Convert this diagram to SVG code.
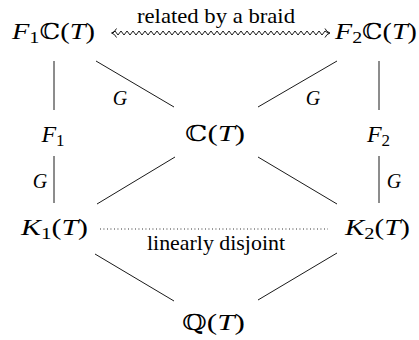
<svg xmlns="http://www.w3.org/2000/svg" width="419" height="340" viewBox="0 0 419 340">
<style>
text{font-family:"Liberation Serif","Times New Roman",serif;fill:#000}
.n{font-size:24px;text-anchor:middle}
.i{font-style:italic}
.s{font-size:17px}
.bb{font-family:"DejaVu Serif",serif;font-size:22px}
.lab{font-size:20px;font-style:italic;text-anchor:middle}
.t{font-size:21px;text-anchor:middle}
.e{stroke:#000;stroke-width:0.9;fill:none}
</style>
<rect width="419" height="340" fill="#fff"/>
<g id="connectors">
<line class="e" x1="54" y1="61" x2="54" y2="110"/>
<line class="e" x1="54" y1="156" x2="54" y2="203"/>
<line class="e" x1="379" y1="61" x2="379" y2="110"/>
<line class="e" x1="379" y1="156" x2="379" y2="203"/>
<line class="e" x1="96" y1="61" x2="174" y2="107"/>
<line class="e" x1="337" y1="61" x2="258" y2="107"/>
<line class="e" x1="175" y1="157" x2="97" y2="204"/>
<line class="e" x1="258" y1="157" x2="337" y2="204"/>
<line class="e" x1="95" y1="254" x2="174" y2="301"/>
<line class="e" x1="337" y1="253" x2="258" y2="300"/>
<line class="e" x1="100" y1="229" x2="328" y2="229" stroke-dasharray="0.9 2.6"/>
<polyline class="e" stroke-width="0.8" points="113,33 115,31 118,35 121,31 124,35 127,31 130,35 133,31 136,35 139,31 142,35 145,31 148,35 151,31 154,35 157,31 160,35 163,31 166,35 169,31 172,35 175,31 178,35 181,31 184,35 187,31 190,35 193,31 196,35 199,31 202,35 205,31 208,35 211,31 214,35 217,31 220,35 223,31 226,35 229,31 232,35 235,31 238,35 241,31 244,35 247,31 250,35 253,31 256,35 259,31 262,35 265,31 268,35 271,31 274,35 277,31 280,35 283,31 286,35 289,31 292,35 295,31 298,35 301,31 304,35 307,31 310,35 313,31 316,35 319,31 322,35 325,31 328,33 329,33"/>
<path class="e" d="M116.5,28.5 Q115,32 111.5,33 Q115,34 116.5,37.5"/>
<path class="e" d="M325,28.5 Q326.5,32 330,33 Q326.5,34 325,37.5"/>
<text class="t" x="216" y="23" textLength="158" lengthAdjust="spacingAndGlyphs">related by a braid</text>
<text class="t" x="216" y="250" textLength="138" lengthAdjust="spacingAndGlyphs">linearly disjoint</text>
<text class="lab" x="120" y="105">G</text>
<text class="lab" x="313" y="105">G</text>
<text class="lab" x="40" y="188">G</text>
<text class="lab" x="394" y="188">G</text>
</g>
<g id="F1CT"><text class="n" x="53.5" y="39" textLength="83" lengthAdjust="spacingAndGlyphs"><tspan class="i">F</tspan><tspan class="s" dy="4">1</tspan><tspan class="bb" dy="-4">ℂ</tspan>(<tspan class="i">T</tspan>)</text></g>
<g id="F2CT"><text class="n" x="376" y="39" textLength="82" lengthAdjust="spacingAndGlyphs"><tspan class="i">F</tspan><tspan class="s" dy="4">2</tspan><tspan class="bb" dy="-4">ℂ</tspan>(<tspan class="i">T</tspan>)</text></g>
<g id="F1"><text class="n" x="53" y="142"><tspan class="i">F</tspan><tspan class="s" dy="4">1</tspan></text></g>
<g id="CT"><text class="n" x="215" y="141" textLength="60" lengthAdjust="spacingAndGlyphs"><tspan class="bb">ℂ</tspan>(<tspan class="i">T</tspan>)</text></g>
<g id="F2"><text class="n" x="378.5" y="142"><tspan class="i">F</tspan><tspan class="s" dy="4">2</tspan></text></g>
<g id="K1T"><text class="n" x="54.5" y="235" textLength="67" lengthAdjust="spacingAndGlyphs"><tspan class="i">K</tspan><tspan class="s" dy="4">1</tspan><tspan dy="-4">(</tspan><tspan class="i">T</tspan>)</text></g>
<g id="K2T"><text class="n" x="377.5" y="235" textLength="65" lengthAdjust="spacingAndGlyphs"><tspan class="i">K</tspan><tspan class="s" dy="4">2</tspan><tspan dy="-4">(</tspan><tspan class="i">T</tspan>)</text></g>
<g id="QT"><text class="n" x="213.5" y="330" textLength="63" lengthAdjust="spacingAndGlyphs"><tspan class="bb">ℚ</tspan>(<tspan class="i">T</tspan>)</text></g>
</svg>
